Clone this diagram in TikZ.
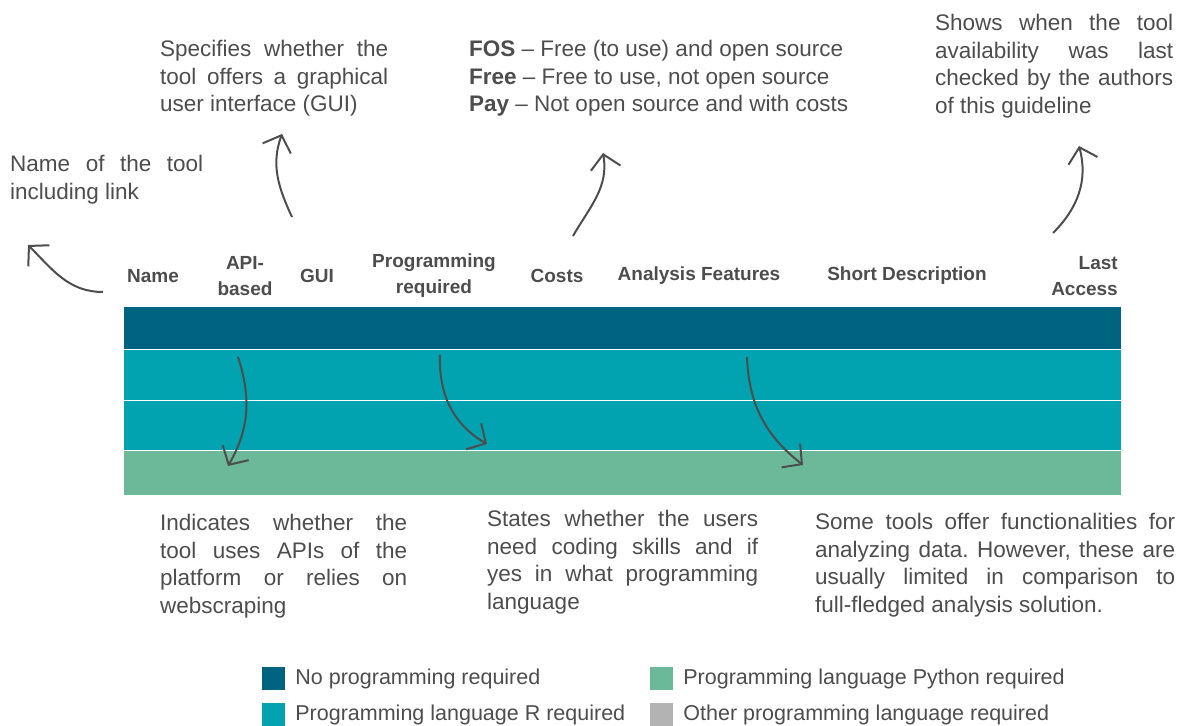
\documentclass[tikz,border=0pt]{standalone}
\usepackage{fontspec}
\setmainfont{Liberation Sans}
\usetikzlibrary{arrows.meta,positioning}
\definecolor{rowdark}{HTML}{00637F}
\definecolor{rowteal}{HTML}{00A3AF}
\definecolor{rowgreen}{HTML}{6BB998}
\definecolor{rowgrey}{HTML}{B3B3B3}
\definecolor{inkgrey}{HTML}{4D4D4D}
\tolerance=10000
\hyphenpenalty=10000
\exhyphenpenalty=10000
\frenchspacing

\begin{document}
\begin{tikzpicture}[
  x=1pt, y=1pt,
  colhead/.style={font=\fontsize{19}{26}\selectfont\bfseries, text=inkgrey, align=center, inner sep=0},
  note/.style={font=\fontsize{22.5}{27.6}\selectfont, text=inkgrey, align=justify, anchor=north west, inner sep=0},
  costnote/.style={font=\fontsize{22.5}{27.6}\selectfont, text=inkgrey, align=left, anchor=north west, inner sep=0},
  tablerow/.style={draw=white, line width=1pt, minimum width=998, anchor=north west, inner sep=0},
  pointer/.style={-{Straight Barb[length=14pt,width=30pt]}, line width=2pt, draw=inkgrey},
  keybox/.style={minimum size=23, inner sep=0},
  keytext/.style={font=\fontsize{21.5}{24}\selectfont, text=inkgrey, inner sep=0}
]
  \useasboundingbox (0,0) rectangle (1187,726);

  % table rows
  \node[tablerow, fill=rowdark, minimum height=43] (row1) at (123,420) {};
  \node[tablerow, fill=rowteal, minimum height=51] (row2) at (123,377) {};
  \node[tablerow, fill=rowteal, minimum height=50] (row3) at (123,326) {};
  \node[tablerow, fill=rowgreen, minimum height=45] (row4) at (123,276) {};

  % column heads
  \node[colhead] (hname) at (153,450) {Name};
  \node[colhead] (hapi) at (245,450) {API-\\based};
  \node[colhead] (hgui) at (317,450) {GUI};
  \node[colhead] (hprog) at (434,450) {Programming\\required};
  \node[colhead] (hcost) at (557,450) {Costs};
  \node[colhead] (hfeat) at (699,450) {Analysis Features};
  \node[colhead] (hdesc) at (907,450) {Short Description};
  \node[colhead, align=right, anchor=east] (hlast) at (1118,450) {Last\\Access};

  % notes above
  \node[note, text width=193] (nametxt) at (10,571) {Name of the tool including link};
  \node[note, text width=228] (guitxt) at (160,686) {Specifies whether the tool offers a graphical user interface (GUI)};
  \node[costnote] (costtxt) at (469,686) {\textbf{FOS} -- Free (to use) and open source\\\textbf{Free} -- Free to use, not open source\\\textbf{Pay} -- Not open source and with costs};
  \node[note, text width=238] (lasttxt) at (935,712) {Shows when the tool availability was last checked by the authors of this guideline};

  % notes below
  \node[note, text width=247] (apitxt) at (160,212) {Indicates whether the tool uses APIs of the platform or relies on webscraping};
  \node[note, text width=271] (progtxt) at (487,216) {States whether the users need coding skills and if yes in what programming language};
  \node[note, text width=360] (feattxt) at (815,213) {Some tools offer functionalities for analyzing data. However, these are usually limited in comparison to full-fledged analysis solution.};

  % pointer ends
  \coordinate (nameA) at (103,434);  \coordinate (nameB) at (28,481);
  \coordinate (guiA) at (292,509);   \coordinate (guiB) at (282,592);
  \coordinate (costA) at (573,490);  \coordinate (costB) at (603,573);
  \coordinate (lastA) at (1053,493); \coordinate (lastB) at (1079,580);
  \coordinate (apiA) at (238,369);   \coordinate (apiB) at (228,260);
  \coordinate (progA) at (440,371);  \coordinate (progB) at (487,282);
  \coordinate (featA) at (747,369);  \coordinate (featB) at (803,261);

  \draw[pointer] (nameA) to[out=180,in=-45] (nameB);
  \draw[pointer] (guiA) to[out=115,in=-110] (guiB);
  \draw[pointer] (costA) to[out=60,in=-80] (costB);
  \draw[pointer] (lastA) to[out=45,in=-75] (lastB);
  \draw[pointer] (apiA) to[out=-72,in=60] (apiB);
  \draw[pointer] (progA) to[out=-92,in=150] (progB);
  \draw[pointer] (featA) to[out=-88,in=142] (featB);

  % legend
  \node[keybox, fill=rowdark] (keynone) at (273.5,47.5) {};
  \node[keybox, fill=rowteal] (keyr) at (273.5,11.5) {};
  \node[keybox, fill=rowgreen] (keypy) at (661.5,47.5) {};
  \node[keybox, fill=rowgrey] (keyother) at (661.5,11.5) {};
  \node[keytext, right=10pt of keynone] (lnone) {No programming required};
  \node[keytext, right=10pt of keyr] (lr) {Programming language R required};
  \node[keytext, right=10pt of keypy] (lpy) {Programming language Python required};
  \node[keytext, right=10pt of keyother] (lother) {Other programming language required};
\end{tikzpicture}
\end{document}
